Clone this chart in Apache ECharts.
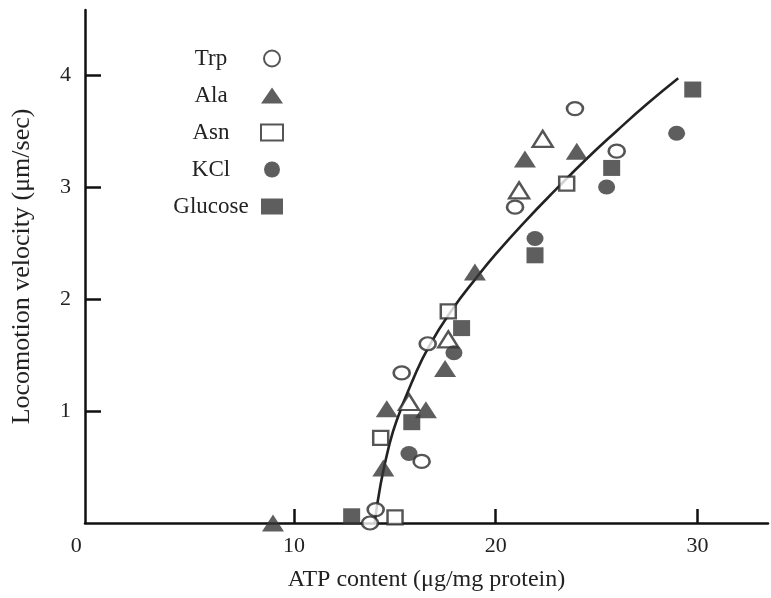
<!DOCTYPE html>
<html>
<head>
<meta charset="utf-8">
<script src="https://cdn.jsdelivr.net/npm/echarts@6/dist/echarts.min.js"></script>
<style>html,body{margin:0;padding:0;background:#fff}#c{width:771px;height:598px}</style>
</head>
<body>
<div id="c"></div>
<script>
// ATP content (x) vs locomotion velocity (y)
var trp = [[23.93,3.70],[26.0,3.32],[20.96,2.82],[16.63,1.60],[15.34,1.34],[16.33,0.55],[14.05,0.12],[13.77,0.0]];
var ala = [[8.96,0.0],[14.43,0.49],[14.6,1.02],[16.54,1.01],[17.49,1.38],[18.97,2.24],[21.45,3.25],[24.02,3.32]];
var alaOpen = [[15.7,1.08],[17.65,1.64],[21.16,2.97],[22.33,3.43]];
var asn = [[15.01,0.05],[14.3,0.76],[17.65,1.89],[23.52,3.03]];
var kcl = [[15.7,0.62],[17.93,1.52],[21.95,2.54],[25.5,3.0],[28.97,3.48]];
var glucose = [[12.86,0.06],[15.84,0.90],[18.31,1.74],[21.95,2.39],[25.75,3.17],[29.77,3.87]];
var curve = [[14.0,0],[14.3,0.35],[14.7,0.68],[15.1,0.92],[15.9,1.28],[16.7,1.58],[17.9,1.92],[19.0,2.18],[20.0,2.40],[21.5,2.70],[23.0,2.98],[24.5,3.25],[26.0,3.50],[27.5,3.74],[29.05,3.97]];
var xTickLabels = [0,10,20,30];
var xTicks = [10,20,30];
var yTicks = [1,2,3,4];
var legendNames = ['Trp','Ala','Asn','KCl','Glucose'];

var FONT = '"Liberation Serif", "DejaVu Serif", serif';
var DARK = '#363636';
var chart = echarts.init(document.getElementById('c'), null, {renderer:'canvas'});
function openStyle(){ return {color:'#fff', borderColor:'#2a2a2a', borderWidth:2.4}; }
function fillStyle(){ return {color:DARK, borderColor:DARK, borderWidth:0}; }
chart.setOption({
  animation:false,
  backgroundColor:'#fff',
  grid:{left:85, right:3, top:10, bottom:75, containLabel:false, outerBoundsMode:'none'},
  legend:{
    data:legendNames, orient:'vertical', left:161, top:42, align:'right',
    itemWidth:22, itemHeight:16, itemGap:14,
    formatter:function(n){return '{t|'+n+'}';},
    textStyle:{fontFamily:FONT, fontSize:23, color:'#222',
      rich:{t:{width:90, align:'center', fontFamily:FONT, fontSize:23, color:'#222', lineHeight:26}}},
    selectedMode:false
  },
  xAxis:{
    type:'value', min:-0.36, max:33.5,
    name:'ATP content (μg/mg protein)', nameLocation:'middle', nameGap:45,
    nameTextStyle:{fontFamily:FONT, fontSize:24, color:'#222'},
    axisLine:{show:true, onZero:false, lineStyle:{color:'#111', width:2.5}},
    axisTick:{show:true, inside:true, length:14, customValues:xTicks, lineStyle:{color:'#111', width:2.5}},
    axisLabel:{show:true, customValues:xTickLabels, margin:12, fontFamily:FONT, fontSize:22, color:'#222',
      formatter:function(v){return v===0?'{z|0}':String(v);},
      rich:{z:{padding:[0,32,0,0], fontFamily:FONT, fontSize:22, color:'#222'}}},
    splitLine:{show:false}
  },
  yAxis:{
    type:'value', min:0, max:4.58,
    name:'Locomotion velocity (μm/sec)', nameLocation:'middle', nameGap:50,
    nameTextStyle:{fontFamily:FONT, fontSize:26, color:'#222'},
    axisLine:{show:true, onZero:false, lineStyle:{color:'#111', width:2.5}},
    axisTick:{show:true, inside:true, length:16, customValues:yTicks, lineStyle:{color:'#111', width:2.5}},
    axisLabel:{show:true, customValues:yTicks, margin:14, fontFamily:FONT, fontSize:22, color:'#222'},
    splitLine:{show:false}
  },
  series:[
    {name:'fit', type:'line', data:curve, smooth:0.5, showSymbol:false, symbol:'none',
     lineStyle:{color:'#222', width:2.6}, z:1, clip:false},
    {name:'Trp', type:'scatter', data:trp, symbol:'circle', symbolSize:[16,13], itemStyle:openStyle(), clip:false, z:3},
    {name:'Ala', type:'scatter', data:ala, symbol:'triangle', symbolSize:[22,17], itemStyle:fillStyle(), clip:false, z:3},
    {name:'Ala (open)', type:'scatter', data:alaOpen, symbol:'triangle', symbolSize:[20,16], itemStyle:openStyle(), clip:false, z:3},
    {name:'Asn', type:'scatter', data:asn, symbol:'rect', symbolSize:[15,14], itemStyle:openStyle(), clip:false, z:3},
    {name:'KCl', type:'scatter', data:kcl, symbol:'circle', symbolSize:[17,15], itemStyle:fillStyle(), clip:false, z:3},
    {name:'Glucose', type:'scatter', data:glucose, symbol:'rect', symbolSize:[17,16], itemStyle:fillStyle(), clip:false, z:3}
  ]
});
</script>
</body>
</html>
